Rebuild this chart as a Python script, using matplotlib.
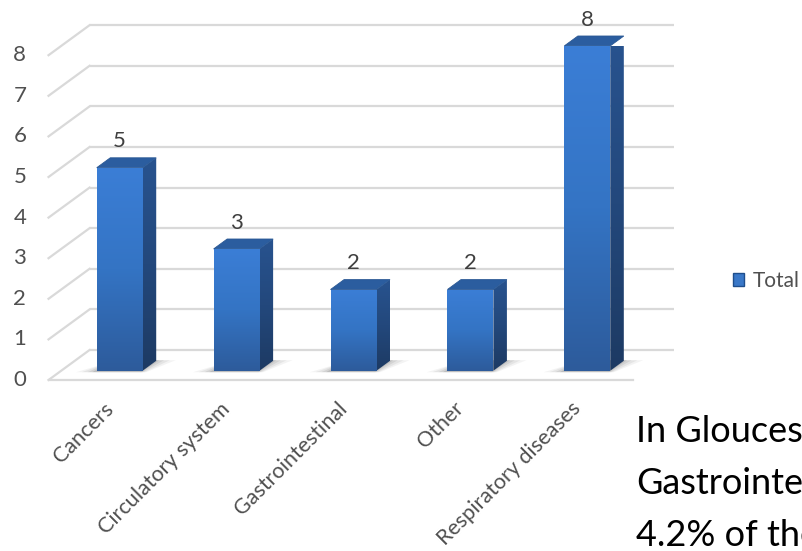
import numpy as np
import matplotlib.pyplot as plt
from matplotlib.patches import Polygon, Rectangle, Patch
from matplotlib.colors import LinearSegmentedColormap

categories = ["Cancers", "Circulatory system", "Gastrointestinal", "Other", "Respiratory diseases"]
totals = [5, 3, 2, 2, 8]
yticks = [0, 1, 2, 3, 4, 5, 6, 7, 8]
note_lines = ["In Gloucestershire,", "Gastrointestinal", "4.2% of the"]

plt.rcParams['font.family'] = ['Lato', 'DejaVu Sans']

# oblique depth: d=0 floor front, d=1 back wall; bars stand between D0 and D1
KX, KY = 0.351, 0.739
D0, D1 = 0.31, 0.64
BW = 0.393
FS = 16


def proj(x, v, d):
    return x + (d - D0) * KX, v + (d - D0) * KY


fig = plt.figure(figsize=(8.02, 5.51), dpi=100)
ax = fig.add_axes([61.25 / 802, 180.3 / 551, 584.5 / 802, 324.8 / 551])

grid_c = '#d9d9d9'
for v in yticks:
    # back wall
    (x0, y0), (x1, y1) = proj(-0.5, v, 1), proj(4.5, v, 1)
    ax.plot([x0, x1], [y0, y1], color=grid_c, lw=1.6, zorder=1, clip_on=False,
            solid_capstyle='butt')
    # left wall
    (x0, y0), (x1, y1) = proj(-0.5, v, 0), proj(-0.5, v, 1)
    ax.plot([x0, x1], [y0, y1], color=grid_c, lw=1.6, zorder=1, clip_on=False)
    ax.annotate(str(v), xy=(x0, y0), xytext=(-16, 0), textcoords='offset points',
                ha='right', va='center', fontsize=FS, color='#505050',
                annotation_clip=False)

# floor front edge
(x0, y0), (x1, y1) = proj(-0.5, 0, 0), proj(4.5, 0, 0)
ax.plot([x0, x1], [y0, y1], color=grid_c, lw=1.6, zorder=1, clip_on=False)

front_cmap = LinearSegmentedColormap.from_list('front', ['#2d5b9b', '#3474c4', '#3b7ed6'])
side_cmap = LinearSegmentedColormap.from_list('side', ['#1d3a63', '#23487c', '#28538f'])
grad = np.linspace(0, 1, 256).reshape(-1, 1)

for i, v in enumerate(totals):
    xl, xr = i - BW / 2, i + BW / 2

    # soft floor shadow
    for k, a in zip([0.16, 0.11, 0.06, 0.02], [0.06, 0.08, 0.10, 0.14]):
        pts = [proj(xl - k, 0, D0 - 0.05), proj(xr + k * 0.3, 0, D0 - 0.05),
               proj(xr + k, 0, D1 + 0.02), proj(xl + k * 0.3, 0, D1 + 0.02)]
        ax.add_patch(Polygon(pts, closed=True, facecolor='#404040', edgecolor='none',
                             alpha=a, zorder=2, clip_on=False))

    # side face
    side = Polygon([proj(xr, 0, D0), proj(xr, v, D0), proj(xr, v, D1), proj(xr, 0, D1)],
                   closed=True, facecolor='none', edgecolor='none', zorder=3)
    ax.add_patch(side)
    sx = [p[0] for p in side.get_xy()]
    sy = [p[1] for p in side.get_xy()]
    im = ax.imshow(grad, extent=(min(sx), max(sx), min(sy), max(sy)), origin='lower',
                   cmap=side_cmap, aspect='auto', zorder=3)
    im.set_clip_path(side)

    # top face
    ax.add_patch(Polygon([proj(xl, v, D0), proj(xr, v, D0), proj(xr, v, D1), proj(xl, v, D1)],
                         closed=True, facecolor='#2b5d9f', edgecolor='#2a5894', lw=0.6,
                         zorder=4, clip_on=False))

    # front face
    front = Rectangle((xl, 0), BW, v, facecolor='none', edgecolor='none', zorder=5)
    ax.add_patch(front)
    im = ax.imshow(grad, extent=(xl, xr, 0, v), origin='lower', cmap=front_cmap,
                   aspect='auto', zorder=5)
    im.set_clip_path(front)

    ax.text(i, v + 0.5, str(v), ha='center', va='baseline', fontsize=FS, color='#404040',
            zorder=6, clip_on=False)

    ax.annotate(categories[i], xy=(i, 0), xytext=(-12, -20), textcoords='offset points',
                ha='right', va='top', rotation=45, rotation_mode='anchor',
                fontsize=FS - 0.5, color='#505050', annotation_clip=False)

ax.set_xlim(-0.5, 4.5)
ax.set_ylim(0, 8)
ax.axis('off')

leg = ax.legend(handles=[Patch(facecolor='#3a78c8', edgecolor='#1f4e8c', label='Total')],
                loc='center left', bbox_to_anchor=(733 / 802, 1 - 281 / 551),
                bbox_transform=fig.transFigure, frameon=False, handlelength=0.55,
                handleheight=0.55, handletextpad=0.4, fontsize=FS - 1, borderpad=0,
                borderaxespad=0)
for t in leg.get_texts():
    t.set_color('#505050')

for j, line in enumerate(note_lines):
    fig.text(636 / 802, 1 - (442 + 52 * j) / 551, line, fontsize=26, color='black',
             ha='left', va='baseline')

fig.savefig('out.png', dpi=100)
